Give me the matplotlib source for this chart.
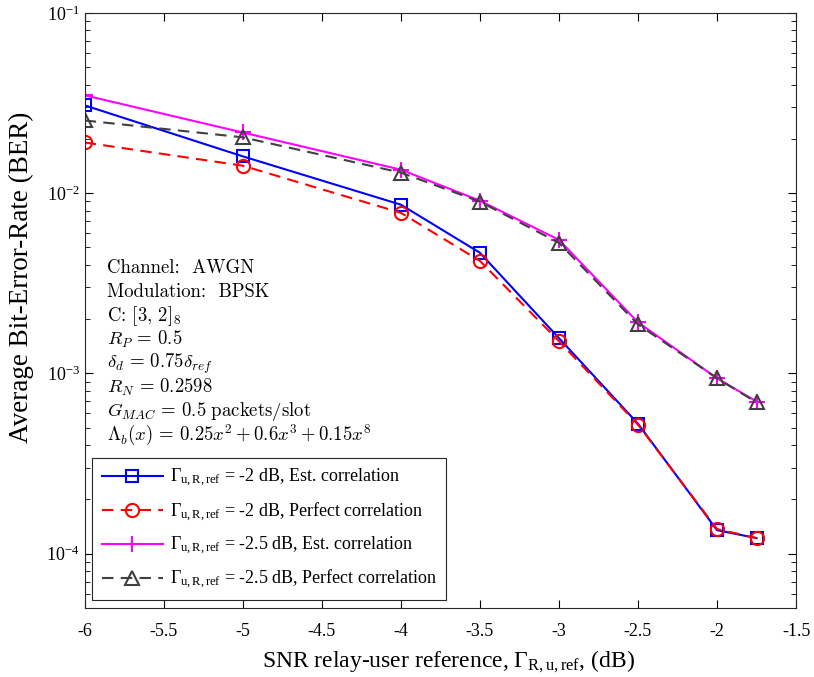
import matplotlib
matplotlib.use("Agg")
import matplotlib.pyplot as plt

## BER vs relay-user reference SNR
snr_db = [-6, -5, -4, -3.5, -3, -2.5, -2, -1.75]

ber_2_est = [0.0307, 0.0160, 0.00863, 0.00467, 0.00157, 5.26e-4, 1.35e-4, 1.22e-4]
ber_2_perf = [0.0191, 0.0142, 0.00778, 0.00421, 0.00151, 5.2e-4, 1.37e-4, 1.22e-4]
ber_25_est = [0.0349, 0.0217, 0.0135, 0.00908, 0.00551, 0.00192, 9.4e-4, 6.98e-4]
ber_25_perf = [0.0253, 0.0204, 0.0130, 0.00897, 0.0053, 0.00187, 9.4e-4, 6.9e-4]

labels = [r'$\Gamma_{\mathrm{u,R,ref}}$ = -2 dB, Est. correlation',
          r'$\Gamma_{\mathrm{u,R,ref}}$ = -2 dB, Perfect correlation',
          r'$\Gamma_{\mathrm{u,R,ref}}$ = -2.5 dB, Est. correlation',
          r'$\Gamma_{\mathrm{u,R,ref}}$ = -2.5 dB, Perfect correlation']

info_lines = [r'Channel:  AWGN',
              r'Modulation:  BPSK',
              r'C: $[3,\,2]_8$',
              r'$R_P\,=\,0.5$',
              r'$\delta_d\,=\,0.75\delta_{ref}$',
              r'$R_N\,=\,0.2598$',
              r'$G_{MAC}\,=\,0.5\ \mathrm{packets/slot}$',
              r'$\Lambda_b(x)\,=\,0.25x^2+0.6x^3+0.15x^8$']

plt.rcParams['font.family'] = 'Liberation Serif'
plt.rcParams['mathtext.fontset'] = 'custom'
plt.rcParams['mathtext.rm'] = 'Liberation Serif'
plt.rcParams['mathtext.it'] = 'Liberation Serif:italic'
plt.rcParams['mathtext.bf'] = 'Liberation Serif:bold'
plt.rcParams['axes.unicode_minus'] = False

fig = plt.figure(figsize=(8.14, 6.77), dpi=100)
ax = fig.add_axes([0.104, 0.102, 0.874, 0.879])

dash = (5.5, 3.5)
ax.semilogy(snr_db, ber_2_est, color='#0000ff', lw=1.5, marker='s', ms=8,
            mfc='none', mew=1.5, label=labels[0])
ax.semilogy(snr_db, ber_2_perf, color='#ff0000', lw=1.5, ls='--', dashes=dash,
            marker='o', ms=9.5, mfc='none', mew=1.5, label=labels[1])
ax.semilogy(snr_db, ber_25_est, color='#ff00ff', lw=1.5, marker='+', ms=11,
            mew=1.5, label=labels[2])
ax.semilogy(snr_db, ber_25_perf, color='#404040', lw=1.5, ls='--', dashes=dash,
            marker='^', ms=10, mfc='none', mew=1.5, label=labels[3])

ax.set_xlim(-6, -1.5)
ax.set_ylim(5e-5, 1e-1)
ax.set_xticks([-6, -5.5, -5, -4.5, -4, -3.5, -3, -2.5, -2, -1.5])
ax.set_xticklabels(['-6', '-5.5', '-5', '-4.5', '-4', '-3.5', '-3', '-2.5', '-2', '-1.5'])
ax.tick_params(which='both', direction='in', top=True, right=True, labelsize=13)
ax.tick_params(which='major', length=6)
ax.tick_params(which='minor', length=3.5)
ax.tick_params(axis='x', which='major', pad=11)
for sp in ax.spines.values():
    sp.set_linewidth(0.8)
    sp.set_color('#262626')

ax.set_xlabel(r'SNR relay-user reference, $\Gamma_{\mathrm{R,u,ref}}$, (dB)', fontsize=17)
ax.set_ylabel('Average Bit-Error-Rate (BER)', fontsize=19.5)
ax.xaxis.set_label_coords(0.512, -0.068)
ax.yaxis.set_label_coords(-0.071, 0.556)

# parameter block, one line at a time (plain lines in cmr10, formulas in cm math)
for i, line in enumerate(info_lines):
    ax.annotate(line, xy=(0.031, 0.572), xycoords='axes fraction',
                xytext=(0, -17.3 * i), textcoords='offset points',
                fontsize=13.5, family='cmr10', math_fontfamily='cm',
                va='center', ha='left')

leg = ax.legend(loc='lower left', bbox_to_anchor=(0.011, 0.013), borderaxespad=0,
                fontsize=13, handlelength=3.4, handletextpad=0.4, labelspacing=0.62,
                borderpad=0.5, fancybox=False, framealpha=1, edgecolor='#262626')
leg.get_frame().set_linewidth(0.8)

plt.savefig('out.png', dpi=100)
